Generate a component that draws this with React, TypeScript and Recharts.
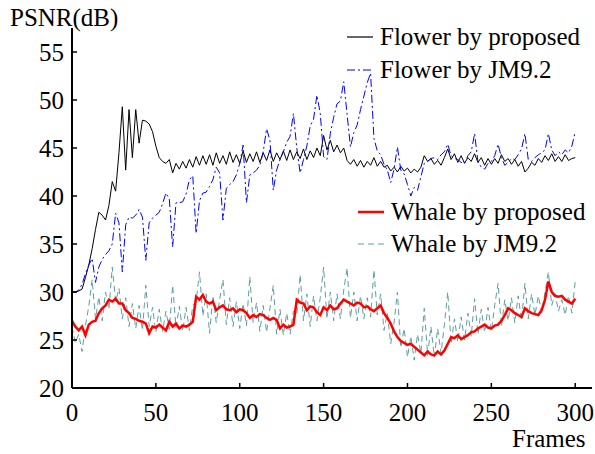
import React from 'react';
import { LineChart, Line, XAxis, YAxis, Customized } from 'recharts';

// frames are sampled every STEP frames, starting at 0
const STEP = 2;

const X_TICKS = [0, 50, 100, 150, 200, 250, 300];
const Y_TICKS = [20, 25, 30, 35, 40, 45, 50, 55];

// Flower by proposed (black, solid)
const flowerProposed = [
  30.0, 30.0, 30.1, 30.3, 31.5, 32.8, 34.5, 36.5, 38.3, 38.0,
  37.5, 39.0, 41.5, 40.5, 44.5, 49.3, 42.7, 49.0, 44.0, 49.0,
  45.5, 47.9, 47.8, 47.5, 46.7, 45.2, 44.0, 43.6, 43.4, 43.8,
  42.4, 43.4, 42.8, 43.6, 42.9, 43.8, 43.0, 44.1, 43.2, 44.2,
  43.3, 44.3, 43.2, 44.5, 43.4, 44.2, 43.3, 44.6, 43.5, 44.3,
  43.4, 44.7, 43.5, 44.4, 43.6, 44.6, 43.5, 44.5, 43.7, 44.8,
  43.6, 44.5, 43.8, 44.7, 43.7, 44.8, 43.8, 44.6, 43.9, 44.9,
  43.8, 44.7, 44.0, 45.0, 44.2, 46.3, 44.8, 45.8, 44.6, 45.3,
  44.5, 45.0, 43.7, 43.3, 43.8, 43.1, 43.7, 43.0, 43.6, 43.2,
  44.0, 43.1, 43.6, 43.0, 43.2, 42.6, 43.0, 42.5, 43.1, 42.6,
  42.9, 42.4, 42.8, 42.5, 43.0, 44.2, 43.6, 43.9, 43.3, 43.7,
  43.2, 44.0, 44.9, 43.8, 44.4, 43.5, 44.2, 43.4, 44.0, 43.6,
  44.4, 43.5, 44.0, 43.2, 43.9, 43.3, 43.9, 43.4, 44.3, 43.6,
  43.9, 43.3, 43.8, 43.1, 43.6, 42.5, 42.9, 43.5, 43.2, 43.9,
  43.5, 44.2, 43.7, 44.4, 43.6, 44.1, 43.6, 44.3, 43.7, 43.9,
  44.0,
];

// Flower by JM9.2 (blue, dash-dot)
const flowerJM = [
  30.0, 30.0, 30.2, 30.8, 31.9, 32.8, 33.5, 31.0, 32.6, 33.4,
  33.9, 34.3, 35.0, 38.2, 37.2, 32.1, 37.0, 37.8, 37.7, 38.0,
  38.6, 37.8, 33.3, 37.2, 37.7, 38.0, 38.3, 39.2, 40.3, 39.7,
  34.7, 39.3, 39.3, 39.4, 40.2, 41.7, 42.1, 36.1, 39.5, 40.3,
  40.4, 41.0, 41.7, 43.0, 42.4, 37.5, 40.8, 41.2, 41.5, 42.2,
  43.4, 45.3, 39.3, 42.2, 42.4, 42.7, 43.2, 44.6, 47.0, 45.8,
  40.6, 42.7, 43.8, 44.6, 45.6, 46.2, 48.6, 45.0, 42.4, 43.8,
  45.2, 47.3, 48.0, 50.5, 48.6, 44.1, 43.8, 46.5, 48.2, 49.6,
  49.9, 51.9, 48.5, 45.1, 46.6, 47.4, 49.0, 50.4, 51.8, 52.8,
  46.0, 44.7, 44.3, 43.3, 42.7, 41.4, 42.8, 45.1, 42.7, 42.3,
  41.2, 40.0, 40.9, 40.6, 42.0, 43.4, 43.6, 43.9, 44.0, 43.8,
  44.3, 44.6, 45.4, 44.2, 43.9, 43.8, 43.5, 43.4, 44.2, 44.6,
  46.5, 43.6, 43.0, 42.8, 43.4, 43.6, 44.2, 45.4, 44.0, 43.2,
  43.5, 43.9, 43.8, 44.3, 44.9, 46.5, 43.8, 43.6, 44.0, 44.3,
  44.5, 44.8, 46.5, 44.8, 44.2, 44.6, 44.3, 44.8, 44.5, 45.2,
  46.7,
];

// Whale by proposed (red, thick)
const whaleProposed = [
  27.0, 26.4, 26.0, 26.4, 25.5, 26.6, 26.9, 27.0, 27.8, 28.3,
  28.6, 29.2, 29.0, 29.3, 28.8, 28.8, 28.1, 27.8, 27.3, 27.2,
  27.0, 26.9, 26.7, 25.7, 26.4, 26.3, 26.6, 26.3, 26.0, 26.9,
  26.4, 26.7, 26.2, 26.5, 26.4, 26.6, 26.9, 29.5, 29.2, 29.7,
  29.0, 28.8, 29.0, 28.1, 28.4, 28.6, 28.2, 28.1, 28.3, 27.9,
  28.2, 28.1, 27.8, 27.3, 27.6, 27.4, 27.7, 27.6, 27.3, 27.1,
  27.3, 27.1, 26.2, 26.6, 26.3, 26.4, 26.6, 29.2, 28.9, 28.8,
  28.1, 28.5, 28.4, 27.9, 27.6, 28.4, 28.1, 28.6, 28.2, 28.3,
  28.8, 29.2, 29.0, 28.8, 28.6, 28.9, 28.8, 28.4, 28.5, 28.2,
  28.0, 28.3, 28.6, 27.8, 27.3, 26.7, 25.9, 25.3, 24.9, 24.7,
  24.5, 24.6, 24.3, 24.0, 23.7, 23.4, 23.8, 23.5, 23.4, 23.8,
  23.5, 23.9, 24.6, 25.3, 25.2, 25.5, 25.1, 25.3, 25.5, 25.8,
  25.9, 26.2, 26.4, 26.6, 26.3, 26.2, 26.5, 26.6, 27.0, 27.6,
  28.3, 28.1, 27.8, 27.6, 27.4, 28.3, 28.0, 27.8, 27.7, 27.6,
  28.1, 29.2, 31.1, 30.0, 29.6, 29.5, 29.6, 29.2, 29.0, 28.8,
  29.3,
];

// Whale by JM9.2 (cadet blue, dashed)
const whaleJM = [
  26.4, 24.7, 25.6, 23.8, 26.5, 28.5, 31.3, 27.2, 29.5, 27.0,
  30.0, 28.2, 32.6, 29.0, 30.4, 27.2, 29.4, 26.4, 28.8, 26.2,
  28.6, 26.0, 30.7, 26.4, 28.4, 25.8, 28.2, 25.9, 28.0, 26.1,
  30.7, 26.3, 28.5, 25.9, 28.4, 26.0, 28.6, 29.0, 32.1, 27.5,
  29.8, 25.7, 29.6, 26.8, 29.2, 31.3, 26.6, 29.4, 26.4, 29.0,
  26.2, 28.8, 26.5, 31.6, 26.8, 28.9, 25.9, 28.6, 25.8, 28.3,
  30.7, 25.6, 28.2, 25.5, 27.8, 25.6, 28.0, 27.6, 31.8, 27.0,
  29.8, 26.4, 29.6, 27.0, 29.4, 32.6, 27.2, 30.0, 27.0, 29.8,
  27.2, 30.2, 32.5, 27.3, 30.0, 27.0, 29.6, 27.2, 29.4, 27.4,
  32.3, 27.6, 29.8, 26.0, 27.8, 24.6, 26.8, 30.0, 24.2, 26.2,
  23.2, 25.4, 22.9, 25.6, 23.6, 28.3, 23.4, 26.4, 23.2, 26.2,
  23.6, 26.6, 30.0, 24.6, 27.2, 24.8, 27.4, 25.0, 27.8, 25.4,
  29.3, 25.6, 28.2, 25.8, 28.4, 25.9, 28.6, 30.9, 26.4, 29.2,
  27.0, 29.4, 26.8, 29.6, 27.0, 30.9, 27.2, 29.8, 27.6, 29.6,
  27.8, 30.0, 32.1, 28.6, 29.8, 28.0, 29.2, 27.6, 29.6, 27.8,
  31.1,
];

const FONT = 'Liberation Serif';
const TXT = { fontFamily: FONT, fontSize: 25, fill: '#000' };

const data = flowerProposed.map((v, i) => ({
  frame: i * STEP,
  fp: v,
  fj: flowerJM[i],
  wp: whaleProposed[i],
  wj: whaleJM[i],
}));

const YTick = ({ x, y, payload }: any) => (
  <g>
    <line x1={x} x2={x + 5} y1={y} y2={y} stroke="#000" strokeWidth={1.5} />
    <text x={x - 8} y={y + 8.5} textAnchor="end" style={TXT}>
      {payload.value}
    </text>
  </g>
);

const XTick = ({ x, y, payload }: any) => (
  <g>
    <line x1={x} x2={x} y1={y} y2={y - 5} stroke="#000" strokeWidth={1.5} />
    <text x={x} y={y + 33} textAnchor="middle" style={TXT}>
      {payload.value}
    </text>
  </g>
);

const LEGEND = [
  { label: 'Flower by proposed', color: '#000000', width: 1.2, dash: undefined, x: 347, y: 37 },
  { label: 'Flower by JM9.2', color: '#0000ff', width: 1.2, dash: '8 3 2 3', x: 347, y: 70 },
  { label: 'Whale by proposed', color: '#ff0000', width: 2.5, dash: undefined, x: 358, y: 212 },
  { label: 'Whale by JM9.2', color: '#5f9ea0', width: 1.2, dash: '6 4', x: 358, y: 244 },
];

const Overlay = () => (
  <g>
    <text x={10} y={26} style={TXT}>PSNR(dB)</text>
    <text x={512} y={447} style={TXT}>Frames</text>
    {LEGEND.map((e) => (
      <g key={e.label}>
        <line x1={e.x} x2={e.x + 26} y1={e.y} y2={e.y} stroke={e.color}
          strokeWidth={e.width} strokeDasharray={e.dash} />
        <text x={e.x + 33} y={e.y + 8} style={TXT}>{e.label}</text>
      </g>
    ))}
  </g>
);

export default function App() {
  return (
    <div style={{ position: 'absolute', left: 0, top: 0, width: 595, height: 454, background: '#fff', fontFamily: FONT }}>
      <LineChart width={595} height={454} data={data}
        margin={{ top: 28, right: 3, bottom: 0, left: 0 }}>
        <XAxis type="number" dataKey="frame" domain={[0, 310]} ticks={X_TICKS}
          height={66} tickSize={0} tickMargin={0} tick={<XTick />}
          axisLine={{ stroke: '#000', strokeWidth: 2 }} tickLine={false} />
        <YAxis type="number" domain={[20, 57.5]} ticks={Y_TICKS} width={72}
          tickSize={0} tickMargin={0} tick={<YTick />}
          axisLine={{ stroke: '#000', strokeWidth: 2 }} tickLine={false}
          allowDataOverflow />
        <Line dataKey="fp" stroke="#000000" strokeWidth={1} dot={false} isAnimationActive={false} />
        <Line dataKey="fj" stroke="#0000ff" strokeWidth={1} strokeDasharray="8 3 2 3" dot={false} isAnimationActive={false} />
        <Line dataKey="wj" stroke="#5f9ea0" strokeWidth={1} strokeDasharray="6 4" dot={false} isAnimationActive={false} />
        <Line dataKey="wp" stroke="#ff0000" strokeWidth={2.5} dot={false} isAnimationActive={false} />
        <Customized component={Overlay} />
      </LineChart>
    </div>
  );
}
